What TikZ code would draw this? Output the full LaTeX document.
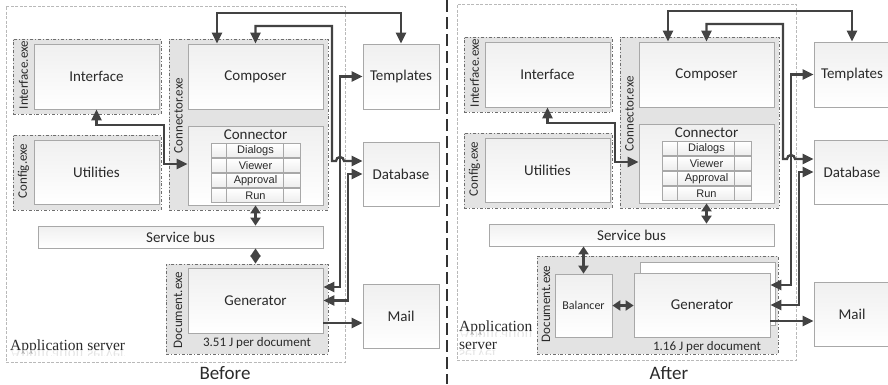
\documentclass[tikz,border=0pt]{standalone}
\usepackage{fontspec}
\setmainfont{Carlito}
\newfontfamily\rowfont{Liberation Sans}
\newfontfamily\srvfont{Liberation Serif}
\usetikzlibrary{arrows.meta,positioning}

\definecolor{linkgray}{HTML}{434343}
\definecolor{boxedge}{HTML}{A8A8A8}
\definecolor{exefill}{HTML}{E3E3E3}
\definecolor{exeedge}{HTML}{6E6E6E}
\definecolor{txtgray}{HTML}{2A2A2A}

% caption of a server frame, with its faint mirror image underneath
\newcommand{\srvcaption}[3]{%
  \node[srvtext, anchor=west] at (#1,#2) {#3};
  \begin{scope}
    \clip (#1,#2+3.8) rectangle ++(130,5);
    \node[srvtext, anchor=west, yscale=-1, text=gray!20] at (#1,#2+7.6) {#3};
  \end{scope}}

% boxes shared by both set-ups (#1 = name prefix)
\newcommand{\serverboxes}[1]{%
  \node[appframe, sz={339}{356}] (#1app) at (175.5,184) {};
  \node[exe, sz={148}{75}] (#1ifx) at (87,76.5) {};
  \node[exelbl] at (23.5,75) {Interface.exe};
  \node[block, sz={125}{65}] (#1intf) at (96.5,76.5) {Interface};
  \node[exe, sz={148}{75}] (#1cfx) at (87,172.5) {};
  \node[exelbl] at (23.5,171) {Config.exe};
  \node[block, sz={125}{64}] (#1util) at (96.5,172) {Utilities};
  \node[exe, sz={159}{171}] (#1cnx) at (248.5,124.5) {};
  \node[exelbl] at (178.5,115.5) {Connector.exe};
  \node[block, sz={135}{65}] (#1comp) at (255.5,76.5) {Composer};
  \node[block, sz={135}{79}] (#1conn) at (255.5,165.5) {};
  \node[lbl, below=4pt of #1conn.north] {Connector};
  \foreach \rowname [count=\k] in {Dialogs,Viewer,Approval,Run}{
    \node[cell] (#1row\k) at (255.5,135.5+15*\k) {\rowname};
    \draw[cellsep] ([xshift=16pt]#1row\k.north west) -- ([xshift=16pt]#1row\k.south west)
                   ([xshift=-17pt]#1row\k.north east) -- ([xshift=-17pt]#1row\k.south east);
  }
  \node[block, sz={285}{22}] (#1bus) at (180.5,237) {Service bus};
  \node[block, sz={76}{65}] (#1tmpl) at (401,76.5) {Templates};
  \node[block, sz={76}{64}] (#1db) at (401,174) {Database};
  \node[block, sz={76}{64}] (#1mail) at (401,316) {Mail};
}

% connectors shared by both set-ups
\newcommand{\serverlinks}[1]{%
  \draw[link,<->] (#1comp.north -| 217,0) |- (300,13) -| (#1tmpl.north);
  \draw[link,<->] (#1comp.north) |- (332,26) -- (332,161) -- (336,161)
    arc[start angle=180,end angle=360,radius=4] -- (#1db.west |- 0,161);
  \draw[link,<->] (#1tmpl.west) -| (340,287) -- (#1gen.east |- 0,287);
  \draw[link,<->] (#1db.west) -| (#1gen.east -| 348,0) -- (#1gen.east);
  \draw[link,->] (#1gen.east |- 0,323) -- (#1mail.west |- 0,323);
  \draw[link,<->] (#1intf.south) |- (164,125) |- (#1conn.west |- 0,164);
  \draw[shortlink,<->] (#1conn.south) -- (#1conn.south |- #1bus.north);
}

\begin{document}
\begin{tikzpicture}[x=1pt, y=-1pt, >={Triangle[length=11pt,width=10pt]},
  sz/.style 2 args={minimum width=#1pt, minimum height=#2pt},
  block/.style={draw=boxedge, line width=0.8pt, top color=gray!12, bottom color=white,
    inner sep=0pt, text=txtgray, font=\fontsize{15}{18}\selectfont},
  copybox/.style={draw=boxedge, line width=0.8pt, fill=white},
  cell/.style={draw=boxedge, line width=0.6pt, top color=white, bottom color=gray!14,
    inner sep=0pt, minimum width=89pt, minimum height=13.5pt, text=txtgray,
    font=\rowfont\fontsize{11}{13}\selectfont},
  cellsep/.style={draw=boxedge, line width=0.6pt},
  exe/.style={draw=exeedge, line width=0.8pt, dash dot, fill=exefill, inner sep=0pt},
  exelbl/.style={rotate=90, inner sep=0pt, text=txtgray, font=\fontsize{13}{15}\selectfont},
  appframe/.style={draw=gray!55, line width=0.7pt, dash pattern=on 3pt off 1.5pt, inner sep=0pt},
  lbl/.style={inner sep=0pt, text=txtgray, font=\fontsize{15}{18}\selectfont},
  note/.style={inner sep=0pt, text=txtgray, font=\fontsize{13}{15}\selectfont},
  srvtext/.style={inner sep=0pt, text=txtgray, font=\srvfont\fontsize{15.5}{18}\selectfont},
  title/.style={inner sep=0pt, text=txtgray, font=\fontsize{19}{22}\selectfont},
  link/.style={draw=linkgray, line width=2.3pt},
  shortlink/.style={link, >={Triangle[length=8pt,width=10pt]}}]
  \useasboundingbox (0,0) rectangle (888,384);

  % before: one generator process
  \serverboxes{b}
  \node[exe, sz={162}{90}] (bdoc) at (247,309) {};
  \node[exelbl] at (178,310) {Document.exe};
  \node[block, sz={135}{65}] (bgen) at (255.5,300.5) {Generator};
  \node[note] at (257,343) {3.51 J per document};
  \draw[shortlink,<->] (bbus.south -| bgen.north) -- (bdoc.north -| bgen.north);
  \serverlinks{b}
  \srvcaption{10}{347}{Application server}
  \node[title] (before) at (225,373) {Before};

  % split between the two set-ups
  \coordinate (cuttop) at (447,0);
  \coordinate (cutbot) at (447,384);
  \draw[black!80, line width=2pt, dash pattern=on 12pt off 5pt] (cuttop) -- (cutbot);

  % after: balancer in front of several generators
  \begin{scope}[shift={(451,-2)}]
    \serverboxes{a}
    \node[exe, sz={241}{98}] (adoc) at (206.5,307) {};
    \node[exelbl] at (95,306) {Document.exe};
    \node[block, sz={57}{63}, font=\fontsize{12}{14}\selectfont] (abal) at (132.5,307.5) {Balancer};
    \node[copybox, sz={135}{63}] (acopy) at (256.5,295.5) {};
    \node[block, sz={136}{64}] (agen) at (251,307) {Generator};
    \node[note] at (256,349) {1.16 J per document};
    \draw[shortlink,<->] (abus.south -| abal.north) -- (abal.north);
    \draw[shortlink,<->] (abal.east) -- (abal.east -| agen.west);
    \serverlinks{a}
    \srvcaption{8}{330}{Application}
    \srvcaption{8}{348}{server}
  \end{scope}
  \node[title] (after) at (669,373) {After};
\end{tikzpicture}
\end{document}
